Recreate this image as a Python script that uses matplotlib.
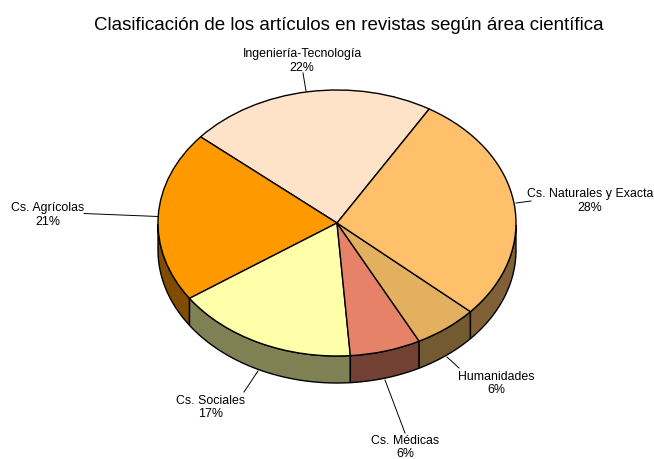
import numpy as np
import matplotlib
matplotlib.use("Agg")
import matplotlib.pyplot as plt

plt.rcParams['font.family'] = ['Liberation Sans', 'DejaVu Sans']

labels = ['Ingeniería-Tecnología', 'Cs. Agrícolas', 'Cs. Sociales', 'Cs. Médicas',
          'Humanidades', 'Cs. Naturales y Exacta']
values = [22.4, 20.8, 16.6, 6.4, 5.8, 28.0]
top_colors = ['#FFE3C8', '#FF9900', '#FFFFAA', '#E68267', '#E3B05F', '#FFC06C']
side_colors = ['#80725F', '#804D00', '#808055', '#734134', '#735A30', '#806036']

start = 59.0
cx, cy = 337, 223
rx, ry = 179, 133
depth = 27

fig = plt.figure(figsize=(6.54, 4.59), dpi=100)
ax = fig.add_axes([0, 0, 1, 1])

wedges, _ = ax.pie(values, colors=top_colors, startangle=start, counterclock=True,
                   radius=1, center=(0, 0), normalize=True,
                   wedgeprops=dict(edgecolor='black', linewidth=1.0, zorder=3))
ax.set_aspect('auto')
# x range so unit radius is rx pixels, y range so unit radius is ry pixels
ax.set_xlim(-cx / rx, (654 - cx) / rx)
ax.set_ylim(-(459 - cy) / ry, cy / ry)
ax.axis('off')

d = depth / ry
edges = start + np.cumsum([0] + values) * 3.6
for i in range(len(values)):
    a0, a1 = edges[i], edges[i + 1]
    # only the front half of the rim shows
    t = np.radians(np.linspace(a0, a1, 80)) % (2 * np.pi)
    t = t[t > np.pi]
    if len(t) == 0:
        continue
    xs = np.cos(t)
    ys = np.sin(t)
    ax.fill(np.r_[xs, xs[::-1]], np.r_[ys, ys[::-1] - d], facecolor=side_colors[i],
            edgecolor='black', linewidth=1.0, zorder=2)

# text centres and leader lines, in picture pixels
label_pos = {
    'Ingeniería-Tecnología': (302, 61),
    'Cs. Agrícolas': (48, 215),
    'Cs. Sociales': (211, 407.5),
    'Cs. Médicas': (405, 447.5),
    'Humanidades': (496, 383.5),
    'Cs. Naturales y Exacta': (590, 201),
}
leaders = {
    'Ingeniería-Tecnología': ((303, 73), (306, 91)),
    'Cs. Agrícolas': ((84, 213.5), (158, 216.5)),
    'Cs. Sociales': ((244, 392), (258, 371)),
    'Cs. Médicas': ((405, 433), (385, 380)),
    'Humanidades': ((459, 368), (447, 357)),
    'Cs. Naturales y Exacta': ((531, 201), (516, 203)),
}


def to_data(px, py):
    return (px - cx) / rx, (cy - py) / ry


for lab, val in zip(labels, values):
    p0, p1 = leaders[lab]
    x0, y0 = to_data(*p0)
    x1, y1 = to_data(*p1)
    ax.plot([x0, x1], [y0, y1], color='black', lw=0.7, zorder=4)
    tx, ty = to_data(*label_pos[lab])
    ax.text(tx, ty, f'{lab}\n{round(val)}%', ha='center', va='center', fontsize=8.9,
            linespacing=1.2, zorder=5)

fig.text(348.5 / 654, 1 - 25 / 459, 'Clasificación de los artículos en revistas según área científica',
         ha='center', va='center', fontsize=13.5)

fig.savefig('out.png', dpi=100)
